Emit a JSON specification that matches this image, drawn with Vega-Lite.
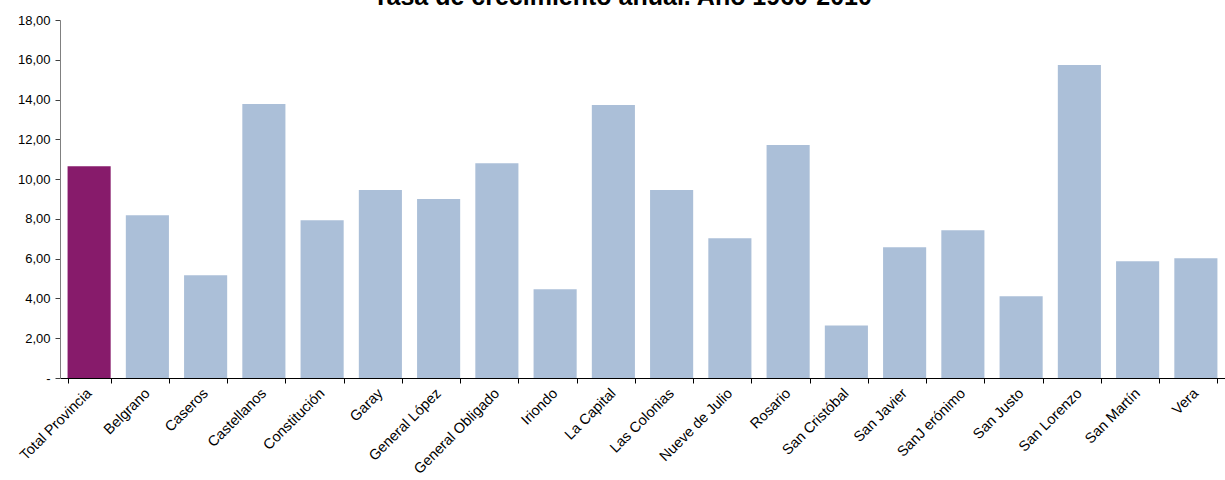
{
  "$schema": "https://vega.github.io/schema/vega-lite/v6.json",
  "autosize": "none",
  "padding": {"left": 60, "top": 20, "right": 0, "bottom": 102},
  "width": 1165,
  "height": 358,
  "background": "white",
  "title": {
    "text": "Tasa de crecimiento anual. Año 1960-2010",
    "font": "Liberation Sans",
    "fontSize": 25,
    "fontWeight": "bold",
    "color": "#000000",
    "anchor": "middle",
    "frame": "group",
    "baseline": "alphabetic",
    "dx": -20,
    "offset": 0,
    "dy": 16
  },
  "data": {
    "values": [
      {"departamento": "Total Provincia", "tasa": 10.65},
      {"departamento": "Belgrano", "tasa": 8.18},
      {"departamento": "Caseros", "tasa": 5.16},
      {"departamento": "Castellanos", "tasa": 13.78},
      {"departamento": "Constitución", "tasa": 7.93},
      {"departamento": "Garay", "tasa": 9.45},
      {"departamento": "General López", "tasa": 9.0},
      {"departamento": "General Obligado", "tasa": 10.8},
      {"departamento": "Iriondo", "tasa": 4.46},
      {"departamento": "La Capital", "tasa": 13.73},
      {"departamento": "Las Colonias", "tasa": 9.45},
      {"departamento": "Nueve de Julio", "tasa": 7.03},
      {"departamento": "Rosario", "tasa": 11.71},
      {"departamento": "San Cristóbal", "tasa": 2.64},
      {"departamento": "San Javier", "tasa": 6.57},
      {"departamento": "SanJ erónimo", "tasa": 7.43},
      {"departamento": "San Justo", "tasa": 4.11},
      {"departamento": "San Lorenzo", "tasa": 15.74},
      {"departamento": "San Martín", "tasa": 5.87},
      {"departamento": "Vera", "tasa": 6.02}
    ]
  },
  "mark": {"type": "bar"},
  "encoding": {
    "x": {
      "field": "departamento",
      "type": "nominal",
      "sort": null,
      "scale": {"paddingInner": 0.26, "paddingOuter": 0.13},
      "axis": {
        "title": null,
        "labelAngle": -45,
        "labelAlign": "right",
        "labelBaseline": "top",
        "labelFont": "Liberation Sans",
        "labelFontSize": 14.5,
        "labelColor": "#000000",
        "labelPadding": 3,
        "labelOffset": -5,
        "tickBand": "extent",
        "tickSize": 5,
        "tickColor": "#000000",
        "domainColor": "#000000",
        "labelOverlap": false
      }
    },
    "y": {
      "field": "tasa",
      "type": "quantitative",
      "scale": {"domain": [0, 18]},
      "axis": {
        "title": null,
        "values": [0, 2, 4, 6, 8, 10, 12, 14, 16, 18],
        "labelExpr": "datum.value == 0 ? '-' : replace(format(datum.value, '.2f'), '.', ',')",
        "labelFont": "Liberation Sans",
        "labelFontSize": 13,
        "labelColor": "#000000",
        "labelPadding": 5,
        "grid": false,
        "tickSize": 5,
        "tickColor": "#404040",
        "domainColor": "#808080"
      }
    },
    "color": {
      "condition": {"test": "datum.departamento == 'Total Provincia'", "value": "#871b6b"},
      "value": "#abbfd8"
    }
  },
  "config": {
    "view": {"stroke": null}
  }
}
